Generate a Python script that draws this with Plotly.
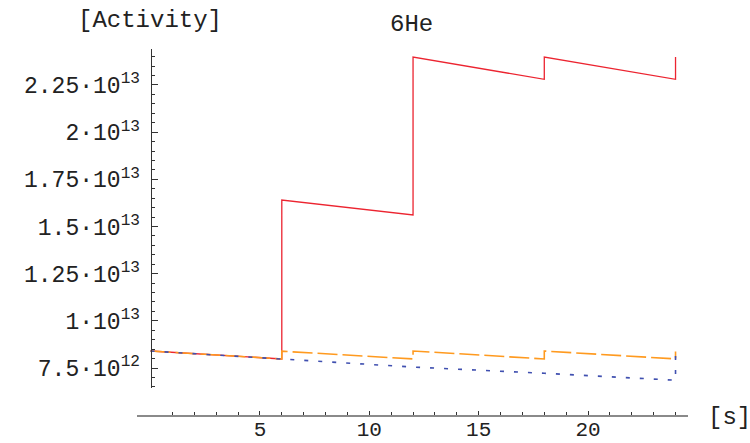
import plotly.graph_objects as go

# ---- data ----
t_total = [0, 6, 6, 12, 12, 18, 18, 24, 24]
a_total = [8.40e12, 7.98e12, 1.64e13, 1.561e13, 2.398e13, 2.280e13, 2.398e13, 2.280e13, 2.398e13]

t_bunch = [0, 6, 6, 12, 12, 18, 18, 24, 24]
a_bunch = [8.40e12, 7.98e12, 8.39e12, 7.98e12, 8.40e12, 7.98e12, 8.40e12, 7.98e12, 8.38e12]

t_single = [0, 6, 12, 18, 24, 24]
a_single = [8.40e12, 7.98e12, 7.55e12, 7.22e12, 6.85e12, 8.38e12]

y_tickvals = [7.5e12, 1.0e13, 1.25e13, 1.5e13, 1.75e13, 2.0e13, 2.25e13]
y_ticktext = ["7.5·10<sup>12</sup>", "1·10<sup>13</sup>", "1.25·10<sup>13</sup>",
              "1.5·10<sup>13</sup>", "1.75·10<sup>13</sup>", "2·10<sup>13</sup>",
              "2.25·10<sup>13</sup>"]
y_minor = [6.5e12 + 0.5e12 * i for i in range(36)]
x_tickvals = [5, 10, 15, 20]
x_minor = list(range(1, 25))

FONT = "Liberation Mono, Courier New, monospace"

fig = go.Figure()
fig.add_trace(go.Scatter(x=t_total, y=a_total, mode="lines",
                         line=dict(color="#EC2430", width=1.3)))
fig.add_trace(go.Scatter(x=t_bunch, y=a_bunch, mode="lines",
                         line=dict(color="#FF9A1F", width=1.6, dash="20px,5px")))
fig.add_trace(go.Scatter(x=t_single, y=a_single, mode="lines",
                         line=dict(color="#4050B0", width=1.6, dash="4px,10px")))

# layout geometry
L, R, T, B = 137, 688, 49, 416
W, H = 750, 443
xr = [-0.62, 24.57]
yr = [6.44e12, 2.4407e13]
ydom0 = (B - 388) / (B - T)

fig.update_layout(
    width=W, height=H,
    margin=dict(l=L, r=W - R, t=T, b=H - B, pad=0, autoexpand=False),
    paper_bgcolor="white", plot_bgcolor="white",
    showlegend=False,
    font=dict(family=FONT, size=22, color="#222"),
    xaxis=dict(range=xr, domain=[0, 1], anchor="free", position=0,
               automargin=False,
               showgrid=False, zeroline=False,
               showline=True, linecolor="#8a8a8a", linewidth=1.6,
               ticks="inside", ticklen=4, tickwidth=1, tickcolor="#333",
               tickmode="array", tickvals=x_tickvals,
               ticktext=[str(v) for v in x_tickvals],
               tickfont=dict(family=FONT, size=21, color="#222"),
               ticklabelstandoff=-6,
               minor=dict(tickvals=x_minor, ticks="inside", ticklen=3,
                          tickwidth=1, tickcolor="#333", showgrid=False)),
    yaxis=dict(range=yr,
               domain=[ydom0, 1], anchor="free",
               position=(0 - xr[0]) / (xr[1] - xr[0]),
               automargin=False,
               showgrid=False, zeroline=False,
               showline=True, linecolor="#333", linewidth=1,
               ticks="inside", ticklen=6, tickwidth=1, tickcolor="#333",
               tickmode="array", tickvals=y_tickvals, ticktext=y_ticktext,
               tickfont=dict(family=FONT, size=23, color="#222"),
               ticklabelstandoff=6,
               minor=dict(tickvals=y_minor, ticks="inside", ticklen=3,
                          tickwidth=1, tickcolor="#333", showgrid=False)),
)

def px(xp):
    return (xp - L) / (R - L)

def py(yp):
    return (B - yp) / (B - T)

fig.add_annotation(text="6He", x=px(411), y=py(25), xref="paper", yref="paper",
                   showarrow=False, xanchor="center", yanchor="middle",
                   font=dict(family=FONT, size=24, color="#222"))
fig.add_annotation(text="[Activity]", x=px(150), y=py(20), xref="paper", yref="paper",
                   showarrow=False, xanchor="center", yanchor="middle",
                   font=dict(family=FONT, size=24, color="#222"))
fig.add_annotation(text="[s]", x=px(729), y=py(417), xref="paper", yref="paper",
                   showarrow=False, xanchor="center", yanchor="middle",
                   font=dict(family=FONT, size=24, color="#222"))

fig.write_html("out.html")
